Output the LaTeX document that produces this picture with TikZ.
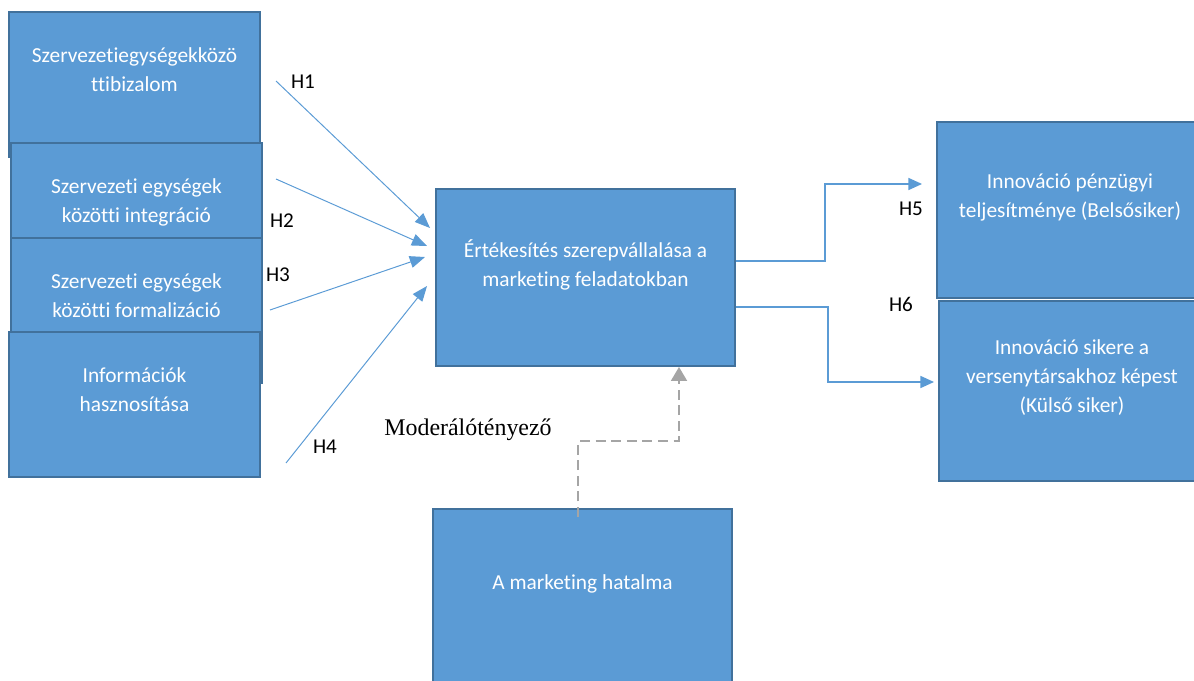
\documentclass[tikz,border=0pt]{standalone}
\usepackage{fontspec}
\setmainfont{Carlito}[Ligatures={NoCommon}]
\newfontfamily\serifface{Liberation Serif}
\usetikzlibrary{arrows.meta}
\definecolor{boxfill}{HTML}{5B9BD5}
\definecolor{boxline}{HTML}{41719C}
\definecolor{linkblue}{HTML}{5B9BD5}
\definecolor{modgrey}{HTML}{A5A5A5}

\begin{document}
\begin{tikzpicture}[
  x=0.025cm, y=-0.025cm,
  every node/.style={inner sep=1pt},
  factor/.style={rectangle, draw=boxline, fill=boxfill, line width=1.4pt,
    text=white, align=center, inner sep=0pt,
    font=\fontsize{15.2}{20.6}\selectfont},
  leftbox/.style={factor, minimum width=251*0.025cm, minimum height=145*0.025cm},
  hyp/.style={font=\fontsize{15}{18}\selectfont},
  link/.style={draw=linkblue, line width=0.7pt,
    -{Triangle[length=0.38cm, width=0.3cm]}},
  outlink/.style={draw=linkblue, line width=1.1pt,
    -{Triangle[length=0.34cm, width=0.3cm]}},
  modlink/.style={draw=modgrey, line width=1.4pt, dash pattern=on 0.25cm off 0.14cm,
    -{Triangle[length=0.35cm, width=0.4cm]}}]

  \useasboundingbox (0,0) rectangle (1194,681);

  % ---- objects ------------------------------------------------------------
  \node[leftbox] (trust) at (134.5,84.5)  {Szervezetiegységekközö\\ttibizalom\\\mbox{}};
  \node[leftbox] (integ) at (136.5,215.5) {Szervezeti egységek\\közötti integráció\\\mbox{}};
  \node[leftbox] (formal) at (136.5,310.5) {Szervezeti egységek\\közötti formalizáció\\\mbox{}};
  \node[leftbox] (info) at (134.5,404.5)  {Információk\\hasznosítása\\\mbox{}};

  \node[factor, minimum width=299*0.025cm, minimum height=177*0.025cm] (sales)
    at (585.5,277.5) {Értékesítés szerepvállalása a\\marketing feladatokban\\\mbox{}};
  \node[factor, minimum width=299*0.025cm, minimum height=176*0.025cm] (power)
    at (582.5,597) {A marketing hatalma\\\mbox{}};

  \node[factor, minimum width=266*0.025cm, minimum height=176*0.025cm] (fin)
    at (1070,210) {Innováció pénzügyi\\teljesítménye (Belsősiker)\\\mbox{}};
  \node[factor, minimum width=266*0.025cm, minimum height=180*0.025cm] (comp)
    at (1072,391) {Innováció sikere a\\versenytársakhoz képest\\(Külső siker)\\\mbox{}};

  % ---- arrows -------------------------------------------------------------
  \coordinate (h1s) at (276,81);
  \coordinate (h2s) at (276,179);
  \coordinate (h3s) at (270,310);
  \coordinate (h4s) at (286,463);

  \draw[link] (h1s) -- ([shift={(-5,40)}]sales.north west);
  \draw[link] (h2s) -- ([shift={(-8,58)}]sales.north west);
  \draw[link] (h3s) -- ([shift={(-10,69)}]sales.north west);
  \draw[link] (h4s) -- ([shift={(-8,98)}]sales.north west);

  \draw[outlink] ([shift={(0,-16.5)}]sales.east) -- ++(89,0)
    |- ([shift={(-14,-26)}]fin.west);
  \draw[outlink] ([shift={(0,29.5)}]sales.east) -- ++(92,0)
    |- ([shift={(-4,-9)}]comp.west);

  \draw[modlink] ([shift={(-4.5,9)}]power.north) -- ++(0,-76)
    -| ([shift={(93.5,0)}]sales.south);

  % ---- labels -------------------------------------------------------------
  \node[hyp] (lh1) at (303,82)  {H1};
  \node[hyp] (lh2) at (282,221) {H2};
  \node[hyp] (lh3) at (278,275) {H3};
  \node[hyp] (lh4) at (325,447) {H4};
  \node[hyp] (lh5) at (911,209) {H5};
  \node[hyp] (lh6) at (901,304) {H6};
  \node[font=\serifface\fontsize{17}{20}\selectfont] (mod) at (468,430) {Moderálótényező};
\end{tikzpicture}
\end{document}
